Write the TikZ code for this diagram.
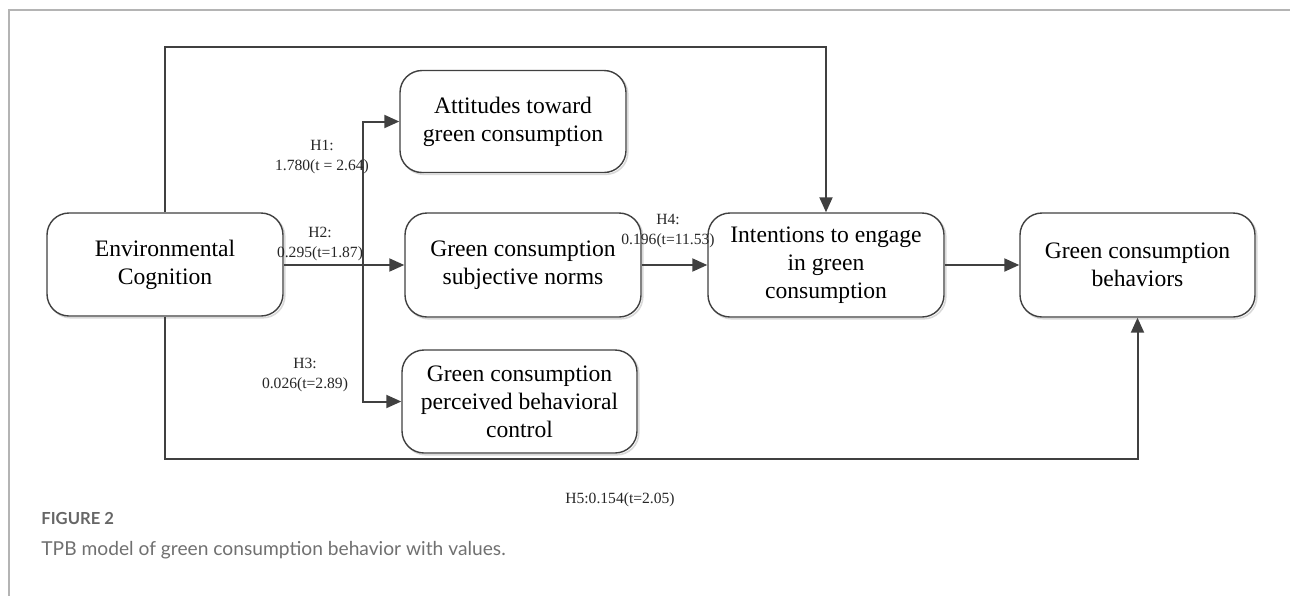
\documentclass[tikz,border=0pt]{standalone}
\usepackage{fontspec}
\setmainfont{Liberation Serif}
\newfontfamily\capfont{Lato}
\usetikzlibrary{arrows.meta,shadows,calc}
\definecolor{linec}{HTML}{404040}
\definecolor{framec}{HTML}{B4B4B4}
\definecolor{capc}{HTML}{707070}
\begin{document}
\begin{tikzpicture}[x=0.5pt,y=-0.5pt,
  box/.style={draw=linec, line width=0.7pt, rounded corners=11pt, align=center,
    font=\fontsize{11.8}{14}\selectfont, inner sep=2pt,
    drop shadow={shadow xshift=0.9pt, shadow yshift=-0.9pt, fill=none, draw=black!15, line width=0.8pt, opacity=1}, fill=white},
  arr/.style={draw=linec, line width=1pt, -{Triangle[length=7.5pt,width=6.5pt]}},
  lab/.style={font=\fontsize{7.8}{9.6}\selectfont, align=center, inner sep=0pt, text=black!85}]
\useasboundingbox (0,0) rectangle (1290,596);
% frame
\draw[framec, line width=1pt] (1290,10) -- (9,10) -- (9,596);
% boxes
\node[box, minimum width=118pt, minimum height=51.5pt] (env) at (165,264.5) {Environmental\\Cognition};
\node[box, minimum width=113pt, minimum height=51pt] (att) at (513,121.5) {Attitudes toward\\green consumption};
\node[box, minimum width=118pt, minimum height=52pt] (sn) at (523,265) {Green consumption\\subjective norms};
\node[box, minimum width=117.5pt, minimum height=51.5pt] (pbc) at (519.5,401.5) {Green consumption\\perceived behavioral\\control};
\node[box, minimum width=118pt, minimum height=52pt] (int) at (826,265) {Intentions to engage\\in green\\consumption};
\node[box, minimum width=117.5pt, minimum height=52pt] (beh) at (1137.5,265) {Green consumption\\behaviors};
% helper coordinates
\coordinate (topy) at (0,47);
\coordinate (boty) at (0,459);
\coordinate (split) at (363,265);
% connectors
\draw[arr] (env.north) |- (topy -| int.north) -- (int.north);
\draw[arr] (env.south) |- (boty -| beh.south) -- (beh.south);
\draw[arr] (env.east |- split) -- (sn.west |- split);
\draw[arr] (split) |- (att.west);
\draw[arr] (split) |- (pbc.west);
\draw[arr] (sn.east) -- (int.west);
\draw[arr] (int.east) -- (beh.west);
% labels
\node[lab] (h1) at (322,157) {H1:\\1.780(t = 2.64)};
\node[lab] (h2) at (320,244) {H2:\\0.295(t=1.87)};
\node[lab] (h3) at (305,375) {H3:\\0.026(t=2.89)};
\node[lab] (h4) at (668,231) {H4:\\0.196(t=11.53)};
\node[lab] (h5) at (620,500) {H5:0.154(t=2.05)};
% caption
\node[anchor=west, inner sep=0pt, text=black!60, font=\capfont\bfseries\fontsize{8.3}{10}\selectfont] (fig) at (41,518) {FIGURE 2};
\node[anchor=west, inner sep=0pt, text=capc, font=\capfont\fontsize{9.6}{11}\selectfont] (cap) at (41,550) {TPB model of green consumption behavior with values.};
\end{tikzpicture}
\end{document}
